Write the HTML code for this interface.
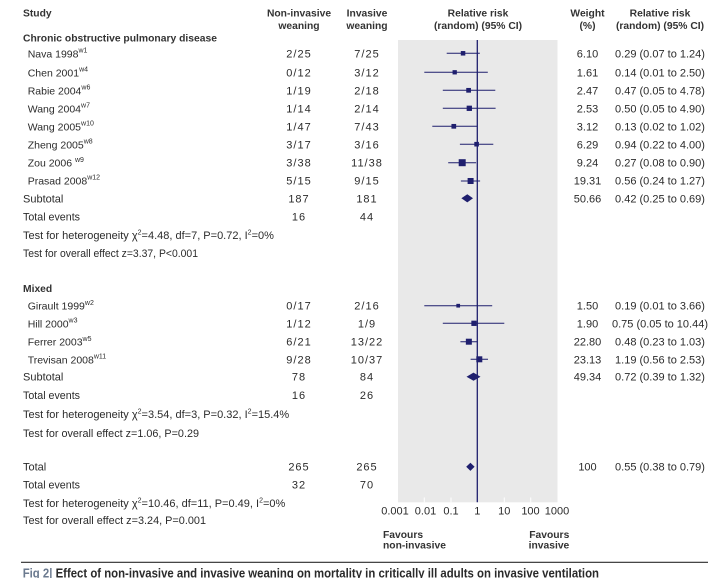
<!DOCTYPE html>
<html>
<head>
<meta charset="utf-8">
<style>
  html, body { margin: 0; padding: 0; background: #ffffff; }
  svg { display: block; }
  text { font-family: "Liberation Sans", "DejaVu Sans", sans-serif; fill: #2b2b2b; }
  .b { font-weight: bold; font-size: 10.3px; fill: #333333; }
  .r { font-size: 11px; }
  .n { font-size: 10.5px; }
  .sup { font-size: 7px; }
  .c { text-anchor: middle; }
  .ls { letter-spacing: 1px; }
</style>
</head>
<body>
<svg width="724" height="578" viewBox="0 0 724 578" xmlns="http://www.w3.org/2000/svg">
  <rect x="0" y="0" width="724" height="578" fill="#ffffff"/>

  <!-- Plot background -->
  <rect x="398" y="40" width="159.5" height="462.3" fill="#e9e9e9"/>
  <g stroke="#ffffff" stroke-width="1">
    <line x1="424.3" y1="497.5" x2="424.3" y2="502.3"/>
    <line x1="451" y1="497.5" x2="451" y2="502.3"/>
    <line x1="504.3" y1="497.5" x2="504.3" y2="502.3"/>
    <line x1="530.7" y1="497.5" x2="530.7" y2="502.3"/>
  </g>
  <line x1="477.3" y1="40" x2="477.3" y2="502.3" stroke="#1f1f6e" stroke-width="1.3"/>

  <!-- Headers -->
  <text class="b" x="23" y="16.5">Study</text>
  <text class="b c" x="299" y="16.5">Non-invasive</text>
  <text class="b c" x="299" y="29">weaning</text>
  <text class="b c" x="367" y="16.5">Invasive</text>
  <text class="b c" x="367" y="29">weaning</text>
  <text class="b c" x="478" y="16.5">Relative risk</text>
  <text class="b c" x="478" y="29">(random) (95% CI)</text>
  <text class="b c" x="587.5" y="16.5">Weight</text>
  <text class="b c" x="587.5" y="29">(%)</text>
  <text class="b c" x="660" y="16.5">Relative risk</text>
  <text class="b c" x="660" y="29">(random) (95% CI)</text>

  <text class="b" x="23" y="41.5" textLength="194" lengthAdjust="spacingAndGlyphs">Chronic obstructive pulmonary disease</text>

  <!-- COPD study names -->
  <text class="n" x="27.7" y="57.3">Nava 1998<tspan class="sup" dy="-4.8">w1</tspan></text>
  <text class="n" x="27.7" y="76.3">Chen 2001<tspan class="sup" dy="-4.8">w4</tspan></text>
  <text class="n" x="27.7" y="94.3">Rabie 2004<tspan class="sup" dy="-4.8">w6</tspan></text>
  <text class="n" x="27.7" y="112.3">Wang 2004<tspan class="sup" dy="-4.8">w7</tspan></text>
  <text class="n" x="27.7" y="130.3">Wang 2005<tspan class="sup" dy="-4.8">w10</tspan></text>
  <text class="n" x="27.7" y="148.3">Zheng 2005<tspan class="sup" dy="-4.8">w8</tspan></text>
  <text class="n" x="27.7" y="166.7">Zou 2006 <tspan class="sup" dy="-4.8"> w9</tspan></text>
  <text class="n" x="27.7" y="184.5">Prasad 2008<tspan class="sup" dy="-4.8">w12</tspan></text>

  <text class="r" x="23" y="202.3">Subtotal</text>
  <text class="r" x="23" y="220.7" textLength="57" lengthAdjust="spacingAndGlyphs">Total events</text>
  <text class="r" x="23" y="239">Test for heterogeneity χ<tspan class="sup" dy="-4.5">2</tspan><tspan dy="4.5">=4.48, df=7, P=0.72, I</tspan><tspan class="sup" dy="-4.5">2</tspan><tspan dy="4.5">=0%</tspan></text>
  <text class="r" x="23" y="257" textLength="175" lengthAdjust="spacingAndGlyphs">Test for overall effect z=3.37, P&lt;0.001</text>

  <!-- COPD data -->
  <text class="r c ls" x="299" y="57.3">2/25</text><text class="r c ls" x="367" y="57.3">7/25</text>
  <text class="r c ls" x="299" y="76.3">0/12</text><text class="r c ls" x="367" y="76.3">3/12</text>
  <text class="r c ls" x="299" y="94.3">1/19</text><text class="r c ls" x="367" y="94.3">2/18</text>
  <text class="r c ls" x="299" y="112.3">1/14</text><text class="r c ls" x="367" y="112.3">2/14</text>
  <text class="r c ls" x="299" y="130.3">1/47</text><text class="r c ls" x="367" y="130.3">7/43</text>
  <text class="r c ls" x="299" y="148.3">3/17</text><text class="r c ls" x="367" y="148.3">3/16</text>
  <text class="r c ls" x="299" y="166.7">3/38</text><text class="r c ls" x="367" y="166.7">11/38</text>
  <text class="r c ls" x="299" y="184.5">5/15</text><text class="r c ls" x="367" y="184.5">9/15</text>
  <text class="r c ls" x="299" y="202.3">187</text><text class="r c ls" x="367" y="202.3">181</text>
  <text class="r c ls" x="299" y="220.7">16</text><text class="r c ls" x="367" y="220.7">44</text>

  <!-- COPD weights & RR -->
  <text class="r c" x="587.5" y="57.3">6.10</text><text class="r c" x="660" y="57.3">0.29 (0.07 to 1.24)</text>
  <text class="r c" x="587.5" y="76.3">1.61</text><text class="r c" x="660" y="76.3">0.14 (0.01 to 2.50)</text>
  <text class="r c" x="587.5" y="94.3">2.47</text><text class="r c" x="660" y="94.3">0.47 (0.05 to 4.78)</text>
  <text class="r c" x="587.5" y="112.3">2.53</text><text class="r c" x="660" y="112.3">0.50 (0.05 to 4.90)</text>
  <text class="r c" x="587.5" y="130.3">3.12</text><text class="r c" x="660" y="130.3">0.13 (0.02 to 1.02)</text>
  <text class="r c" x="587.5" y="148.3">6.29</text><text class="r c" x="660" y="148.3">0.94 (0.22 to 4.00)</text>
  <text class="r c" x="587.5" y="166.7">9.24</text><text class="r c" x="660" y="166.7">0.27 (0.08 to 0.90)</text>
  <text class="r c" x="587.5" y="184.5">19.31</text><text class="r c" x="660" y="184.5">0.56 (0.24 to 1.27)</text>
  <text class="r c" x="587.5" y="202.3">50.66</text><text class="r c" x="660" y="202.3">0.42 (0.25 to 0.69)</text>

  <!-- Mixed -->
  <text class="b" x="23" y="292">Mixed</text>
  <text class="n" x="27.7" y="309.7">Girault 1999<tspan class="sup" dy="-4.8">w2</tspan></text>
  <text class="n" x="27.7" y="327.3">Hill 2000<tspan class="sup" dy="-4.8">w3</tspan></text>
  <text class="n" x="27.7" y="345.7">Ferrer 2003<tspan class="sup" dy="-4.8">w5</tspan></text>
  <text class="n" x="27.7" y="363.3">Trevisan 2008<tspan class="sup" dy="-4.8">w11</tspan></text>

  <text class="r" x="23" y="380.7">Subtotal</text>
  <text class="r" x="23" y="399" textLength="57" lengthAdjust="spacingAndGlyphs">Total events</text>
  <text class="r" x="23" y="418">Test for heterogeneity χ<tspan class="sup" dy="-4.5">2</tspan><tspan dy="4.5">=3.54, df=3, P=0.32, I</tspan><tspan class="sup" dy="-4.5">2</tspan><tspan dy="4.5">=15.4%</tspan></text>
  <text class="r" x="23" y="437" textLength="176" lengthAdjust="spacingAndGlyphs">Test for overall effect z=1.06, P=0.29</text>

  <text class="r c ls" x="299" y="309.7">0/17</text><text class="r c ls" x="367" y="309.7">2/16</text>
  <text class="r c ls" x="299" y="327.3">1/12</text><text class="r c ls" x="367" y="327.3">1/9</text>
  <text class="r c ls" x="299" y="345.7">6/21</text><text class="r c ls" x="367" y="345.7">13/22</text>
  <text class="r c ls" x="299" y="363.3">9/28</text><text class="r c ls" x="367" y="363.3">10/37</text>
  <text class="r c ls" x="299" y="380.7">78</text><text class="r c ls" x="367" y="380.7">84</text>
  <text class="r c ls" x="299" y="399">16</text><text class="r c ls" x="367" y="399">26</text>

  <text class="r c" x="587.5" y="309.7">1.50</text><text class="r c" x="660" y="309.7">0.19 (0.01 to 3.66)</text>
  <text class="r c" x="587.5" y="327.3">1.90</text><text class="r c" x="660" y="327.3">0.75 (0.05 to 10.44)</text>
  <text class="r c" x="587.5" y="345.7">22.80</text><text class="r c" x="660" y="345.7">0.48 (0.23 to 1.03)</text>
  <text class="r c" x="587.5" y="363.3">23.13</text><text class="r c" x="660" y="363.3">1.19 (0.56 to 2.53)</text>
  <text class="r c" x="587.5" y="380.7">49.34</text><text class="r c" x="660" y="380.7">0.72 (0.39 to 1.32)</text>

  <!-- Total -->
  <text class="r" x="23" y="470.5">Total</text>
  <text class="r" x="23" y="488.3" textLength="57" lengthAdjust="spacingAndGlyphs">Total events</text>
  <text class="r" x="23" y="507">Test for heterogeneity χ<tspan class="sup" dy="-4.5">2</tspan><tspan dy="4.5">=10.46, df=11, P=0.49, I</tspan><tspan class="sup" dy="-4.5">2</tspan><tspan dy="4.5">=0%</tspan></text>
  <text class="r" x="23" y="524" textLength="183" lengthAdjust="spacingAndGlyphs">Test for overall effect z=3.24, P=0.001</text>

  <text class="r c ls" x="299" y="470.5">265</text><text class="r c ls" x="367" y="470.5">265</text>
  <text class="r c ls" x="299" y="488.3">32</text><text class="r c ls" x="367" y="488.3">70</text>
  <text class="r c" x="587.5" y="470.5">100</text><text class="r c" x="660" y="470.5">0.55 (0.38 to 0.79)</text>

  <!-- Forest plot: CI lines -->
  <g stroke="#1f1f6e" stroke-width="1">
    <line x1="446.7" y1="53.3" x2="479.8" y2="53.3"/>
    <line x1="424.3" y1="72.3" x2="487.8" y2="72.3"/>
    <line x1="442.8" y1="90.3" x2="495.3" y2="90.3"/>
    <line x1="442.8" y1="108.3" x2="495.6" y2="108.3"/>
    <line x1="432.3" y1="126.3" x2="477.5" y2="126.3"/>
    <line x1="459.9" y1="144.3" x2="493.3" y2="144.3"/>
    <line x1="448.2" y1="162.7" x2="476.1" y2="162.7"/>
    <line x1="460.9" y1="181" x2="480.1" y2="181"/>
    <line x1="424.3" y1="305.7" x2="492.2" y2="305.7"/>
    <line x1="442.8" y1="323.3" x2="504.3" y2="323.3"/>
    <line x1="460.4" y1="341.7" x2="477.6" y2="341.7"/>
    <line x1="470.6" y1="359.3" x2="488.0" y2="359.3"/>
  </g>
  <g fill="#1f1f6e">
    <rect x="460.8" y="51.05" width="4.5" height="4.5"/>
    <rect x="452.55" y="70.15" width="4.3" height="4.3"/>
    <rect x="466.25" y="87.95" width="4.7" height="4.7"/>
    <rect x="466.65" y="105.65" width="5.3" height="5.3"/>
    <rect x="451.45" y="123.95" width="4.7" height="4.7"/>
    <rect x="474.3" y="141.9" width="4.6" height="4.6"/>
    <rect x="458.7" y="159.2" width="7" height="7"/>
    <rect x="467.6" y="178" width="6" height="6"/>
    <rect x="456.35" y="303.85" width="3.7" height="3.7"/>
    <rect x="471.35" y="320.65" width="5.3" height="5.3"/>
    <rect x="465.85" y="338.7" width="6" height="6"/>
    <rect x="476.3" y="356.3" width="6" height="6"/>
  </g>
  <g fill="#1f1f6e">
    <polygon points="461.35,198.3 467.3,194.2 473.0,198.3 467.3,202.4"/>
    <polygon points="466.5,376.7 473.5,372.6 480.5,376.7 473.5,380.8"/>
    <polygon points="466.2,466.8 470.4,462.7 474.6,466.8 470.4,470.9"/>
  </g>

  <!-- axis labels -->
  <text class="r c" x="395" y="514.5">0.001</text>
  <text class="r c" x="425.5" y="514.5">0.01</text>
  <text class="r c" x="451" y="514.5">0.1</text>
  <text class="r c" x="477.3" y="514.5">1</text>
  <text class="r c" x="504.3" y="514.5">10</text>
  <text class="r c" x="530.5" y="514.5">100</text>
  <text class="r c" x="557" y="514.5">1000</text>

  <text class="b" x="383" y="538">Favours</text>
  <text class="b" x="383" y="548.7">non-invasive</text>
  <text class="b" x="569.3" y="538" text-anchor="end">Favours</text>
  <text class="b" x="569.3" y="548.7" text-anchor="end">invasive</text>

  <!-- caption -->
  <line x1="21" y1="562.3" x2="708" y2="562.3" stroke="#2b2b2b" stroke-width="1.1"/>
  <text x="22.7" y="577.3" font-size="12.5" textLength="576.3" lengthAdjust="spacingAndGlyphs" style="font-weight:bold; fill:#2a2a2a;"><tspan style="fill:#6b7a8f">Fig 2|</tspan> Effect of non-invasive and invasive weaning on mortality in critically ill adults on invasive ventilation</text>
</svg>
</body>
</html>
